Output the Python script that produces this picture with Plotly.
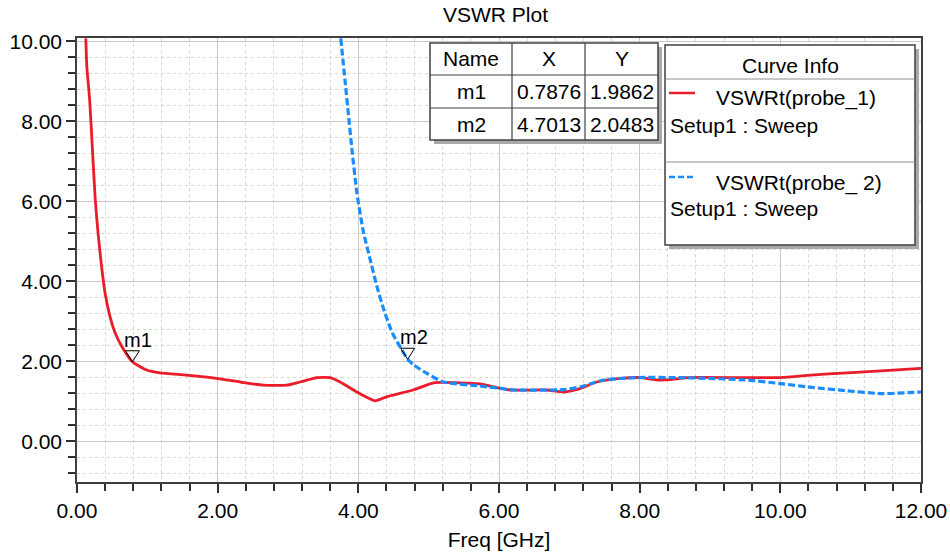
import plotly.graph_objects as go

# ---------------- data ----------------
freq_probe1 = [0.125, 0.14, 0.18, 0.22, 0.26, 0.30, 0.35, 0.40, 0.47, 0.54, 0.64, 0.7876, 0.99, 1.18,
               1.56, 1.98, 2.32, 2.65, 2.98, 3.17, 3.41, 3.60, 3.74, 4.02, 4.24, 4.40, 4.78, 5.07,
               5.45, 5.73, 5.97, 6.16, 6.68, 6.92, 7.16, 7.39, 7.73, 8.01, 8.25, 8.44, 8.67, 10.0,
               10.43, 10.95, 11.43, 12.0]
vswr_probe1 = [10.07, 9.36, 8.53, 7.28, 6.03, 5.19, 4.36, 3.69, 3.11, 2.72, 2.36, 1.9862, 1.78, 1.71,
               1.65, 1.57, 1.48, 1.40, 1.40, 1.48, 1.59, 1.59, 1.48, 1.19, 1.01, 1.11, 1.28, 1.46,
               1.46, 1.43, 1.34, 1.28, 1.28, 1.23, 1.32, 1.48, 1.57, 1.59, 1.53, 1.54, 1.59, 1.59,
               1.65, 1.71, 1.76, 1.82]

freq_probe2 = [3.75, 3.81, 3.86, 3.91, 3.98, 4.07, 4.17, 4.26, 4.36, 4.48, 4.62, 4.7013, 4.79, 4.97,
               5.21, 5.73, 6.02, 6.20, 6.92, 7.16, 7.49, 7.96, 8.58, 9.53, 10.0, 10.48, 10.95,
               11.43, 12.0]
vswr_probe2 = [10.07, 9.03, 8.15, 7.28, 6.20, 5.25, 4.53, 3.90, 3.30, 2.72, 2.28, 2.0483, 1.90, 1.70,
               1.48, 1.38, 1.32, 1.28, 1.29, 1.36, 1.53, 1.59, 1.59, 1.53, 1.44, 1.34, 1.26,
               1.19, 1.23]

marker_names = ["m1", "m2"]
marker_x = [0.7876, 4.7013]
marker_y = [1.9862, 2.0483]

curve_names = ["VSWRt(probe_1)", "VSWRt(probe_ 2)"]
curve_setup = ["Setup1 : Sweep", "Setup1 : Sweep"]

x_tick_vals = [0, 2, 4, 6, 8, 10, 12]
x_tick_text = ["0.00", "2.00", "4.00", "6.00", "8.00", "10.00", "12.00"]
y_tick_vals = [0, 2, 4, 6, 8, 10]
y_tick_text = ["0.00", "2.00", "4.00", "6.00", "8.00", "10.00"]

# ---------------- layout helpers ----------------
W, H = 950, 559
L, R, T, B = 77, 921, 38, 482
FONT = "Liberation Sans, Arial, sans-serif"
FS = 21
RED = "#ea1c2a"
BLUE = "#1a8cff"


def px(x):
    return (x - L) / (R - L)


def py(y):
    return (B - y) / (B - T)


fig = go.Figure()
fig.add_trace(go.Scatter(x=freq_probe1, y=vswr_probe1, mode="lines",
                         line=dict(color=RED, width=2.8, shape="spline", smoothing=0.5),
                         name=curve_names[0], showlegend=False, hoverinfo="skip"))
fig.add_trace(go.Scatter(x=freq_probe2, y=vswr_probe2, mode="lines",
                         line=dict(color=BLUE, width=3.2, dash="7px,3px", shape="spline", smoothing=0.5),
                         name=curve_names[1], showlegend=False, hoverinfo="skip"))

shapes = []
annotations = []

# marker triangles + labels
for name, mx, my in zip(marker_names, marker_x, marker_y):
    shapes.append(dict(type="path", xref="x", yref="y", xsizemode="pixel", ysizemode="pixel",
                       xanchor=mx, yanchor=my, path="M -7 11 L 7 11 L 0 0 Z",
                       line=dict(color="black", width=1), fillcolor="rgba(255,255,255,0)"))
    annotations.append(dict(x=mx, y=my, xref="x", yref="y", text=name, showarrow=False,
                            xanchor="left", yanchor="middle", xshift=-10, yshift=22,
                            font=dict(family=FONT, size=20, color="black")))

# title
annotations.append(dict(x=px(495), y=py(15), xref="paper", yref="paper", text="VSWR Plot",
                        showarrow=False, xanchor="center", yanchor="middle",
                        font=dict(family=FONT, size=FS, color="black")))


def rect(x0, y0, x1, y1, fill, line_color=None, lw=1.5):
    shapes.append(dict(type="rect", xref="paper", yref="paper",
                       x0=px(x0), x1=px(x1), y0=py(y1), y1=py(y0),
                       fillcolor=fill,
                       line=dict(color=line_color if line_color else fill, width=lw if line_color else 0)))


def hline(x0, x1, y, color="#404040", lw=1.2, dash="solid"):
    shapes.append(dict(type="line", xref="paper", yref="paper", x0=px(x0), x1=px(x1),
                       y0=py(y), y1=py(y), line=dict(color=color, width=lw, dash=dash)))


def vline(x, y0, y1, color="#404040", lw=1.2):
    shapes.append(dict(type="line", xref="paper", yref="paper", x0=px(x), x1=px(x),
                       y0=py(y0), y1=py(y1), line=dict(color=color, width=lw)))


def text(x, y, s, anchor="center", size=FS):
    annotations.append(dict(x=px(x), y=py(y), xref="paper", yref="paper", text=s,
                            showarrow=False, xanchor=anchor, yanchor="middle",
                            font=dict(family=FONT, size=size, color="black")))


# ---- marker table ----
tx0, tx1, ty0, ty1 = 430, 658, 43, 140
cols = [430, 512, 585, 658]
rows = [43, 75, 108, 140]
rect(tx0 + 4, ty0 + 4, tx1 + 4, ty1 + 4, "#a9a9a9")
rect(tx0, ty0, tx1, ty1, "white", "#404040", 1.5)
for c in cols[1:-1]:
    vline(c, ty0, ty1)
for r in rows[1:-1]:
    hline(tx0, tx1, r)
header = ["Name", "X", "Y"]
table_rows = [header] + [[n, f"{x:.4f}", f"{y:.4f}"] for n, x, y in zip(marker_names, marker_x, marker_y)]
for ri, row in enumerate(table_rows):
    yc = (rows[ri] + rows[ri + 1]) / 2
    for ci, cell in enumerate(row):
        xc = (cols[ci] + cols[ci + 1]) / 2
        text(xc, yc, cell)

# ---- curve info box ----
lx0, lx1, ly0, ly1 = 665, 915, 45, 245
rect(lx0 + 4, ly0 + 4, lx1 + 4, ly1 + 4, "#a9a9a9")
rect(lx0, ly0, lx1, ly1, "white", "#404040", 1.5)
hline(lx0, lx1, 79, color="#909090", lw=1)
hline(lx0, lx1, 162, color="#909090", lw=1)
text(790, 65, "Curve Info")
hline(669, 695, 93, color=RED, lw=2.5)
text(714, 98, curve_names[0], anchor="left")
text(668, 125, curve_setup[0], anchor="left")
hline(669, 695, 177, color=BLUE, lw=2.5, dash="6px,3px")
text(714, 183, curve_names[1], anchor="left")
text(668, 208, curve_setup[1], anchor="left")

axis_common = dict(
    showline=True, linecolor="#404040", linewidth=1.5, mirror=True,
    ticks="outside", ticklen=9, tickwidth=1.5, tickcolor="#303030",
    showgrid=True, gridcolor="#cbc5c5", gridwidth=1,
    zeroline=False,
    tickfont=dict(family=FONT, size=FS, color="black"),
)

fig.update_layout(
    width=W, height=H,
    margin=dict(l=L, r=W - R, t=T, b=H - B, autoexpand=False),
    paper_bgcolor="white", plot_bgcolor="white",
    showlegend=False,
    shapes=shapes, annotations=annotations,
    xaxis=dict(range=[0, 12], tickvals=x_tick_vals, ticktext=x_tick_text,
               title=dict(text="Freq [GHz]", font=dict(family=FONT, size=FS, color="black"), standoff=11),
               minor=dict(dtick=0.4, tick0=0, ticks="outside", ticklen=7, tickcolor="#303030",
                          showgrid=True, gridcolor="#d6d6e6", griddash="dot", gridwidth=1),
               **axis_common),
    yaxis=dict(range=[-1.02, 10.08], tickvals=y_tick_vals, ticktext=y_tick_text,
               minor=dict(dtick=0.4, tick0=0, ticks="outside", ticklen=7, tickcolor="#303030",
                          showgrid=True, gridcolor="#d9d9c4", griddash="dot", gridwidth=1),
               **axis_common),
)

fig.write_html("out.html", config={"displayModeBar": False},
               post_script="document.body.style.margin='0px';document.body.style.padding='0px';")
